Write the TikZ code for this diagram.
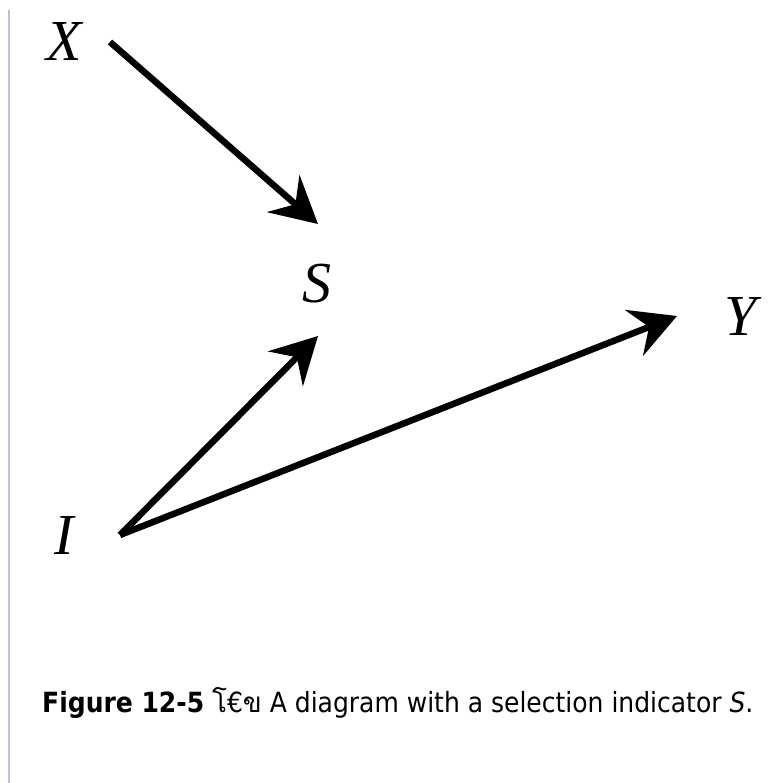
\documentclass[tikz,border=0pt]{standalone}
\usepackage{fontspec}
\setmainfont{Liberation Serif}
\newfontfamily\capfont{DejaVu Sans Condensed}
\newfontfamily\thaifont[Script=Thai]{Loma}
\usepackage{tikz}
\usetikzlibrary{positioning,arrows.meta,calc}
\definecolor{railgray}{RGB}{190,190,212}

\begin{document}
\begin{tikzpicture}[
    x=1pt, y=-1pt,
    var/.style={font=\fontsize{58}{60}\selectfont\itshape, inner sep=0pt},
    arr/.style={line width=6.5pt,
                -{Stealth[length=46pt, width=49pt, inset=16pt]}},
    rail/.style={draw=railgray, line width=1.5pt},
  ]
  \useasboundingbox (0,0) rectangle (784,783);

  % thin rule down the left margin
  \draw[rail] (9,10) -- (9,783);

  % variables
  \node[var] (X) at (64,42) {X};
  \node[var] (S) at (317,284) {S};
  \node[var] (Y) at (741,317) {Y};
  \node[var] (I) at (64,536) {I};

  % X and I point to the selection indicator, I also to Y
  \draw[arr] ($(X)+(46,0)$) -- ($(S)+(1,-60)$);
  \draw[arr] ($(I)+(56,-1)$) -- ($(S)+(1,52)$);
  \draw[arr] ($(I)+(56,-1)$) -- ($(Y)+(-64,-1)$);

  % caption
  \node[anchor=base west, inner sep=0pt, font=\capfont\fontsize{27.8}{30}\selectfont]
    (cap) at (42,712)
    {\textbf{Figure 12-5} {\thaifont โ}€{\thaifont ข} A diagram with a selection indicator \textit{S}.};
\end{tikzpicture}
\end{document}
